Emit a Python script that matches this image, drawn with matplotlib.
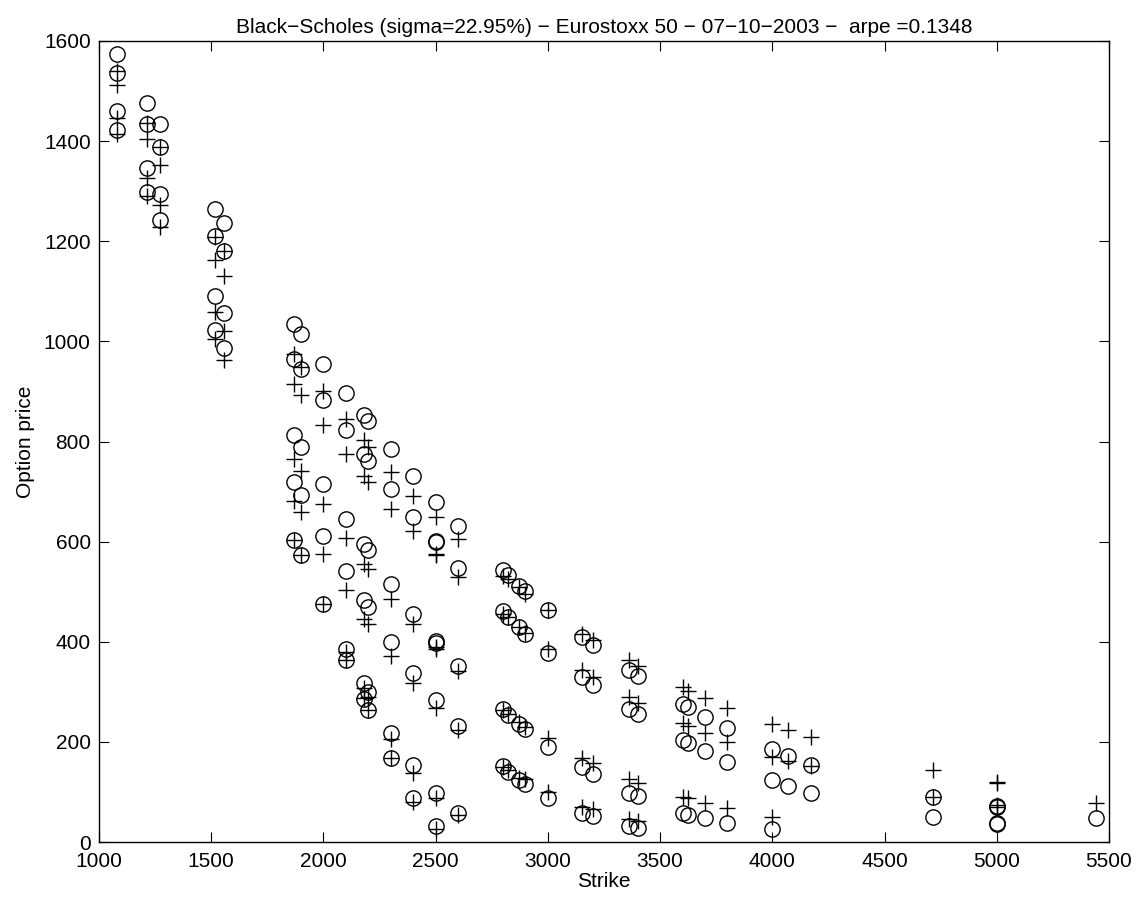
import numpy as np
import matplotlib
matplotlib.use('Agg')
import matplotlib.pyplot as plt

plt.rcParams['font.family'] = ['Liberation Sans', 'DejaVu Sans']

# strikes and prices (circles = market, crosses = model)
strikes = [1081.82, 1212.12, 1272.73, 1514.85, 1555.56, 1870.37, 1900, 2000, 2100,
           2178.57, 2200, 2300, 2400, 2500, 2499.76, 2600, 2800, 2822.03, 2870.37,
           2900, 3000, 3153.85, 3200, 3360, 3400, 3600, 3626.42, 3700, 3800, 4000,
           4070, 4170.21, 4714.29, 5000, 5440]

market = [[1575, 1537, 1460, 1422], [1477, 1435, 1346, 1299], [1434, 1389, 1294, 1242],
          [1264, 1210, 1090, 1023], [1237, 1180, 1057, 987],
          [1035, 965, 812, 719, 604], [1015, 945, 789, 694, 573], [954, 882, 716, 612, 476],
          [896, 822, 646, 541, 386, 363], [852, 775, 596, 483, 317, 285],
          [840, 762, 583, 469, 300, 263], [785, 706, 515, 400, 218, 167],
          [732, 649, 456, 338, 154, 87], [679, 599, 398, 283, 97, 31], [601, 401],
          [632, 548, 351, 231, 57], [544, 461, 265, 152], [533, 449, 253, 140],
          [511, 430, 235, 124], [501, 415, 225, 116], [463, 378, 190, 87],
          [410, 329, 150, 58], [393, 313, 135, 52], [343, 265, 98, 32], [331, 255, 92, 27],
          [275, 203, 58], [270, 198, 54], [250, 182, 47], [228, 160, 37], [185, 124, 25],
          [172, 112], [154, 97], [90, 49], [72, 69, 38, 35], [47]]

model = [[1540, 1512, 1446, 1414], [1437, 1404, 1327, 1291], [1389, 1353, 1273, 1228],
         [1208, 1162, 1058, 1005], [1181, 1131, 1021, 962],
         [975, 914, 765, 682, 604], [948, 892, 742, 659, 573], [900, 832, 676, 576, 476],
         [845, 775, 608, 503, 380, 363], [802, 732, 556, 446, 307, 287],
         [790, 719, 546, 436, 290, 263], [739, 666, 486, 371, 205, 167],
         [692, 622, 436, 317, 137, 80], [649, 573, 386, 267, 87, 25], [575, 389],
         [606, 529, 342, 223, 54], [532, 455, 263, 150], [525, 450, 256, 143],
         [509, 430, 240, 128], [496, 418, 230, 126], [463, 386, 208, 100],
         [415, 343, 167, 70], [403, 330, 157, 65], [363, 290, 125, 45], [351, 278, 118, 42],
         [310, 238, 90], [302, 231, 87], [287, 218, 78], [267, 200, 67], [235, 170, 50],
         [223, 162], [210, 152], [144, 90], [120, 117, 73, 70], [78]]

K = np.concatenate([[k] * len(m) for k, m in zip(strikes, market)])
mkt = np.concatenate(market)
mdl = np.concatenate(model)

fig = plt.figure(figsize=(11.37, 9.02), dpi=100)
ax = fig.add_axes([99 / 1137, 60 / 902, 1010 / 1137, 801 / 902])

ax.plot(K, mkt, 'o', mfc='none', mec='black', ms=11, mew=1.0)
ax.plot(K, mdl, '+', color='black', ms=12, mew=1.0)

ax.set_xlim(1000, 5500)
ax.set_ylim(0, 1600)
ax.set_xticks(np.arange(1000, 5501, 500))
ax.set_yticks(np.arange(0, 1601, 200))
ax.tick_params(direction='in', top=True, right=True, length=7, width=0.8, labelsize=15)
ax.tick_params(axis='y', pad=6)
ax.tick_params(axis='x', pad=7)
for s in ax.spines.values():
    s.set_linewidth(1.0)

ax.set_xlabel('Strike', fontsize=15, labelpad=1)
ax.set_ylabel('Option price', fontsize=15, labelpad=6)
ax.set_title('Black\u2212Scholes (sigma=22.95%) \u2212 Eurostoxx 50 \u2212 07\u221210\u22122003 \u2212  arpe =0.1348',
             fontsize=15, pad=6)

fig.savefig('out.png', dpi=100)
